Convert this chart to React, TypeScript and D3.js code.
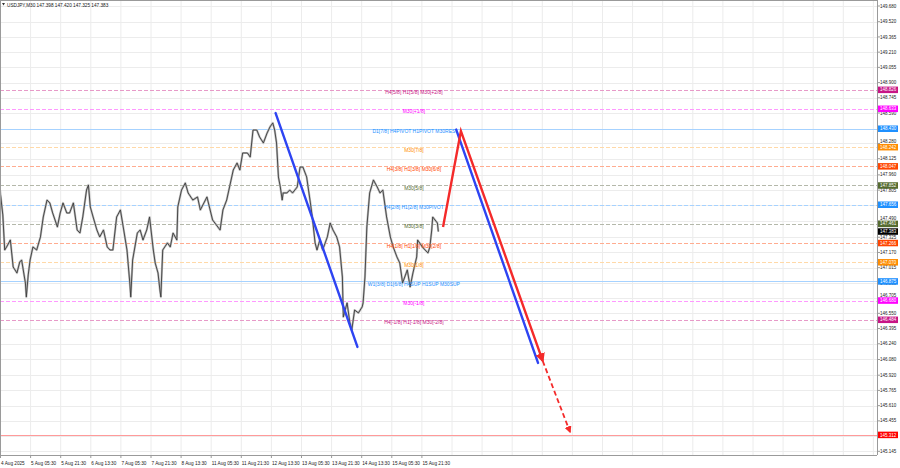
import React from "react";
import * as d3 from "d3";

// ---- data ----
const title = "USDJPY,M30  147.398 147.420 147.325 147.383";

const dateLabels = [
  "4 Aug 2025", "5 Aug 05:30", "5 Aug 21:30", "6 Aug 13:30", "7 Aug 05:30",
  "7 Aug 21:30", "8 Aug 13:30", "11 Aug 05:30", "11 Aug 21:30", "12 Aug 13:30",
  "13 Aug 05:30", "13 Aug 21:30", "14 Aug 13:30", "15 Aug 05:30", "15 Aug 21:30",
];
const barsPerLabel = 32;
const gridCount = 30;

const priceTicks = [
  149.68, 149.52, 149.365, 149.21, 149.055, 148.9, 148.745, 148.59, 148.43, 148.28,
  148.125, 147.96, 147.805, 147.65, 147.49, 147.325, 147.17, 147.015, 146.86, 146.705,
  146.55, 146.395, 146.24, 146.08, 145.92, 145.765, 145.61, 145.455, 145.3, 145.145,
];

const priceBars = [
  0, 3, 5, 7, 11, 14, 18, 21, 23, 27, 28, 30, 32, 35, 39, 43, 46, 50, 53, 56,
  61, 64, 67, 71, 74, 78, 82, 85, 88, 92, 94, 96, 99, 103, 106, 110, 114, 117, 120, 124,
  128, 131, 135, 138, 139, 141, 146, 149, 152, 156, 159, 163, 165, 168, 170, 171, 173, 178, 181, 184,
  188, 189, 193, 197, 200, 205, 210, 213, 220, 226, 234, 237, 241, 248, 252, 255, 258, 263, 266, 269,
  273, 276, 280, 284, 287, 290, 292, 294, 296, 298, 300, 301, 305, 308, 311, 316, 319, 322, 326, 330,
  332, 335, 337, 340, 343, 348, 351, 354, 358, 361, 364, 365, 369, 372, 374, 377, 381, 385, 386, 388,
  390, 393, 397, 401, 404, 407, 411, 415, 418, 422, 425, 428, 433, 436, 439, 443, 444, 449, 452, 455,
  457, 459, 460, 465, 466,
];
const priceCloses = [
  147.806, 147.552, 147.195, 147.226, 147.297, 147.022, 146.961, 147.073, 147.093, 146.859,
  146.717, 146.941, 147.093, 147.226, 147.195, 147.328, 147.531, 147.704, 147.674, 147.572,
  147.43, 147.572, 147.674, 147.572, 147.572, 147.674, 147.399, 147.368, 147.531, 147.806,
  147.857, 147.633, 147.531, 147.399, 147.328, 147.399, 147.226, 147.195, 147.195, 147.531,
  147.603, 147.43, 147.195, 146.859, 146.717, 147.093, 147.368, 147.399, 147.297, 147.399,
  147.531, 147.195, 147.063, 146.961, 146.788, 146.717, 147.195, 147.267, 147.226, 147.368,
  147.297, 147.633, 147.806, 147.878, 147.776, 147.704, 147.735, 147.603, 147.735, 147.501,
  147.399, 147.603, 147.704, 148.01, 148.081, 148.01, 148.183, 148.183, 148.142, 148.417,
  148.417, 148.346, 148.285, 148.387, 148.448, 148.489, 148.417, 148.285, 147.939, 147.837,
  147.704, 147.776, 147.776, 147.806, 147.776, 147.837, 148.04, 148.04, 147.939, 147.674,
  147.531, 147.267, 147.195, 147.297, 147.195, 147.328, 147.47, 147.399, 147.328, 147.226,
  146.92, 146.513, 146.656, 146.452, 146.381, 146.584, 146.554, 146.615, 146.656, 146.92,
  147.43, 147.776, 147.908, 147.837, 147.776, 147.806, 147.531, 147.328, 147.226, 147.124,
  147.063, 146.859, 146.992, 146.819, 146.961, 147.124, 147.297, 147.226, 147.195, 147.165,
  147.226, 147.399, 147.531, 147.47, 147.383,
];

const levelPrices = [148.826, 148.633, 148.43, 148.242, 148.047, 147.852, 147.656, 147.461, 147.266, 147.07, 146.875, 146.68, 146.484, 145.312];
const levelLabels = [
  "H4[5/8] H1[5/8] M30[+2/8]", "M30[+1/8]", "D1[7/8] H4PIVOT H1PIVOT M30RES", "M30[7/8]",
  "H4[3/8] H1[3/8] M30[6/8]", "M30[5/8]", "H4[2/8] H1[2/8] M30PIVOT", "M30[3/8]",
  "H4[1/8] H1[1/8] M30[2/8]", "M30[1/8]", "W1[3/8] D1[6/8] H4SUP H1SUP M30SUP", "M30[-1/8]",
  "H4[-1/8] H1[-1/8] M30[-2/8]", "",
];
const levelKinds = ["mvr", "mag", "blueSolid", "orange", "orangered", "olive", "blueDash", "olive", "orangered", "orange", "blueSolid", "mag", "mvr", "red"];
const labelBar = 440;
const currentPrice = 147.383;

// arrows: [bar, price]
const blueLine1 = [[293, 148.59], [380, 146.208]];
const blueLine2 = [[485, 148.422], [572, 146.045]];
const redLine = [[471, 147.43], [490, 148.407], [577, 146.065]];
const redDashed = [[577, 146.065], [606, 145.342]];

// ---- styles ----
const kindStyle: Record<string, { line: string; text: string; box: string; dash: string | null }> = {
  mvr: { line: "#e79ac8", text: "#c71585", box: "#c71585", dash: "4,2" },
  mag: { line: "#ff99ff", text: "#ff00ff", box: "#ff00ff", dash: "4,2" },
  blueSolid: { line: "#a6d2ff", text: "#1e90ff", box: "#1e90ff", dash: null },
  blueDash: { line: "#a6d2ff", text: "#1e90ff", box: "#1e90ff", dash: "4,2" },
  orange: { line: "#ffd9a8", text: "#ff8c00", box: "#ff8c00", dash: "4,2" },
  orangered: { line: "#ffac90", text: "#ff4500", box: "#ff4500", dash: "4,2" },
  olive: { line: "#b4b8aa", text: "#556b2f", box: "#556b2f", dash: "4,2" },
  red: { line: "#ff9a9a", text: "#ff0000", box: "#ff0000", dash: null },
};

const W = 900;
const H = 468;
const plotRight = 877;
const plotBottom = 455;
const BOX_H = 6.5;
const FONT = "'Liberation Sans', Arial, sans-serif";

export default function App() {
  const x = d3.scaleLinear().domain([0, barsPerLabel]).range([0, 30.1]);
  const y = d3.scaleLinear().domain([145.145, 149.68]).range([451.3, 6]);

  const pts = priceBars.map((b, i) => [b, priceCloses[i]] as [number, number]);
  const line = d3
    .line<number[]>()
    .x((d) => x(d[0]))
    .y((d) => y(d[1]));

  const gridX = d3.range(gridCount).map((i) => x(i * barsPerLabel));
  const boxYs = [...levelPrices, currentPrice].map((p) => y(p));

  // tick label vertical position, nudged above a box if it would sit on it
  const tickTextY = (p: number) => {
    const ty = y(p);
    for (const by of boxYs) {
      const d = by - ty;
      if (d > 0 && d < 5.5) return by - BOX_H / 2 - 0.6;
    }
    return ty + 1.6;
  };

  return (
    <svg
      width={W}
      height={H}
      style={{ position: "fixed", left: 0, top: 0, background: "#fff" }}
      fontFamily={FONT}
    >
      <defs>
        <marker id="redHead" viewBox="0 0 10 10" refX="8" refY="5" markerWidth="4" markerHeight="4" orient="auto">
          <path d="M0,0 L10,5 L0,10 z" fill="#f42a2a" />
        </marker>
      </defs>
      <rect x={0} y={0} width={W} height={H} fill="#fff" />
      {/* grid */}
      <g stroke="#ececec" strokeWidth={1}>
        {gridX.map((gx, i) => (
          <line key={"gx" + i} x1={gx + 0.5} x2={gx + 0.5} y1={0} y2={plotBottom} />
        ))}
        {priceTicks.map((p, i) => (
          <line key={"gy" + i} x1={0} x2={plotRight} y1={Math.round(y(p)) + 0.5} y2={Math.round(y(p)) + 0.5} />
        ))}
      </g>
      {/* levels */}
      <g>
        {levelPrices.map((p, i) => {
          const s = kindStyle[levelKinds[i]];
          const yy = Math.round(y(p)) + 0.5;
          return (
            <line
              key={"lv" + i}
              x1={0}
              x2={plotRight}
              y1={yy}
              y2={yy}
              stroke={s.line}
              strokeWidth={1}
              strokeDasharray={s.dash || undefined}
            />
          );
        })}
      </g>
      {/* price */}
      <path d={line(pts) || ""} fill="none" stroke="#bdbdbd" strokeWidth={2.2} strokeLinejoin="round" />
      <path d={line(pts) || ""} fill="none" stroke="#3c3c3c" strokeWidth={0.9} strokeLinejoin="miter" />
      {/* level labels */}
      <g fontSize={5} textAnchor="middle">
        {levelPrices.map((p, i) =>
          levelLabels[i] ? (
            <text key={"ll" + i} x={x(labelBar)} y={y(p) + 4.6} fill={kindStyle[levelKinds[i]].text}>
              {levelLabels[i]}
            </text>
          ) : null
        )}
      </g>
      {/* arrows */}
      <path d={line(blueLine1) || ""} fill="none" stroke="#2e44f2" strokeWidth={2.4} strokeLinecap="round" />
      <path d={line(blueLine2) || ""} fill="none" stroke="#2e44f2" strokeWidth={2.4} strokeLinecap="round" />
      <path d={line(redLine) || ""} fill="none" stroke="#f42a2a" strokeWidth={2.4} strokeLinejoin="miter" markerEnd="url(#redHead)" />
      <path d={line(redDashed) || ""} fill="none" stroke="#f42a2a" strokeWidth={1.8} strokeDasharray="5,3" markerEnd="url(#redHead)" />
      {/* frame */}
      <line x1={0.5} x2={0.5} y1={0} y2={plotBottom} stroke="#9a9a9a" />
      <line x1={0} x2={plotRight} y1={0.5} y2={0.5} stroke="#9a9a9a" />
      <line x1={plotRight + 0.5} x2={plotRight + 0.5} y1={0} y2={plotBottom} stroke="#9a9a9a" />
      <line x1={0} x2={plotRight} y1={plotBottom + 0.5} y2={plotBottom + 0.5} stroke="#9a9a9a" />
      {/* title */}
      <path d="M2,3 L5,3 L3.5,5.5 z" fill="#333" />
      <text x={7} y={6.6} fontSize={4.7} fill="#222">{title}</text>
      {/* right axis */}
      <g fontSize={4.5} fill="#222">
        {priceTicks.map((p, i) => (
          <g key={"pt" + i}>
            <line x1={plotRight} x2={plotRight + 3} y1={y(p)} y2={y(p)} stroke="#9a9a9a" />
            <text x={880} y={tickTextY(p)}>{p.toFixed(3)}</text>
          </g>
        ))}
      </g>
      {/* bottom axis */}
      <g fontSize={4.7} fill="#222">
        {dateLabels.map((t, i) => (
          <g key={"dl" + i}>
            <line x1={x(i * barsPerLabel) + 0.5} x2={x(i * barsPerLabel) + 0.5} y1={plotBottom} y2={plotBottom + 3} stroke="#9a9a9a" />
            <text x={x(i * barsPerLabel) + 1} y={465}>{t}</text>
          </g>
        ))}
      </g>
      {/* price boxes */}
      <g fontSize={4.5}>
        {levelPrices.map((p, i) => {
          const s = kindStyle[levelKinds[i]];
          return (
            <g key={"bx" + i}>
              <rect x={878} y={y(p) - BOX_H / 2} width={20} height={BOX_H} fill={s.box} />
              <text x={880} y={y(p) + 1.6} fill="#fff">{p.toFixed(3)}</text>
            </g>
          );
        })}
        <rect x={878} y={y(currentPrice) - BOX_H / 2} width={20} height={BOX_H} fill="#000" />
        <text x={880} y={y(currentPrice) + 1.6} fill="#fff">{currentPrice.toFixed(3)}</text>
      </g>
    </svg>
  );
}
